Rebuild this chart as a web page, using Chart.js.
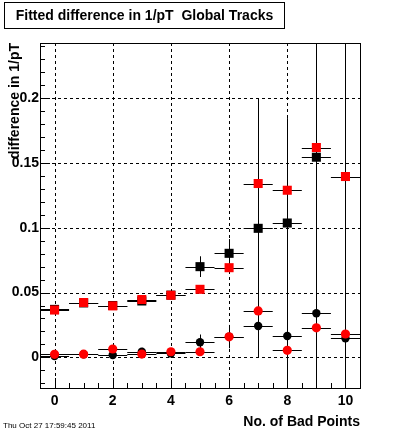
<!DOCTYPE html>
<html>
<head>
<meta charset="utf-8">
<script src="https://cdn.jsdelivr.net/npm/chart.js@4/dist/chart.umd.min.js"></script>
<style>
  body { margin: 0; background: #fff; }
  #wrap { position: relative; width: 400px; height: 433px; background: #fff; }
  #title {
    position: absolute; left: 4px; top: 2px; width: 279px; height: 25px;
    border: 1px solid #000; font: bold 14px "Liberation Sans", Arial, sans-serif;
    line-height: 25px; text-align: center; white-space: pre; color: #000;
  }
  #stamp {
    position: absolute; left: 3px; top: 421px;
    font: 8px "Liberation Sans", Arial, sans-serif; color: #000; white-space: pre;
  }
</style>
</head>
<body>
<div id="wrap">
  <canvas id="chart" width="400" height="433"></canvas>
  <div id="title">Fitted difference in 1/pT  Global Tracks</div>
  <div id="stamp">Thu Oct 27 17:59:45 2011</div>
</div>
<script>
// No. of bad points (x categories)
const nBad = [0, 1, 2, 3, 4, 5, 6, 7, 8, 9, 10];

// series
const redSquare   = [0.0365, 0.0423, 0.0397, 0.0446, 0.0479, 0.0525, 0.0692, 0.1342, 0.1290, 0.1620, 0.1396];
const blackSquare = [0.0370, 0.0420, 0.0400, 0.0435, 0.0480, 0.0700, 0.0803, 0.0996, 0.1037, 0.1545, null];
const redCircle   = [0.0023, 0.0024, 0.0064, 0.0025, 0.0043, 0.0043, 0.0158, 0.0358, 0.0054, 0.0228, 0.0180];
const blackCircle = [0.0010, 0.0024, 0.0018, 0.0043, 0.0030, 0.0116, 0.0160, 0.0242, 0.0164, 0.0340, 0.0147];

// vertical errors (black series only), horizontal half-width is half a bin
const blackSquareErr = [0.002, 0.002, 0.002, 0.002, 0.002, 0.008, 0.011, 0.100, 0.081, 0.300, 0];
const blackCircleErr = [0.003, 0.001, 0.002, 0.003, 0.002, 0.006, 0.009, 0.020, 0.050, 0.050, 0.300];
const binHalf = 0.5;

// axis ticks
const xTickValues = [0, 2, 4, 6, 8, 10];
const yTickValues = [0, 0.05, 0.1, 0.15, 0.2];
const yTickLabels = ['0', '0.05', '0.1', '0.15', '0.2'];

const FONT = '"Liberation Sans", Arial, sans-serif';

function points(vals) {
  return nBad.map((x, i) => ({ x: x, y: vals[i] }));
}

// error bars + dashed grid, under the markers
const errorBars = {
  id: 'errorBars',
  beforeDatasetsDraw(chart) {
    const { ctx, chartArea: a, scales: { x, y } } = chart;
    ctx.save();
    ctx.beginPath();
    ctx.rect(a.left, a.top, a.right - a.left, a.bottom - a.top);
    ctx.clip();

    // grid
    ctx.strokeStyle = '#000';
    ctx.lineWidth = 1;
    ctx.setLineDash([3, 3]);
    xTickValues.forEach(v => {
      const px = Math.round(x.getPixelForValue(v)) + 0.5;
      ctx.beginPath(); ctx.moveTo(px, a.top); ctx.lineTo(px, a.bottom); ctx.stroke();
    });
    yTickValues.forEach(v => {
      const py = Math.round(y.getPixelForValue(v)) + 0.5;
      ctx.beginPath(); ctx.moveTo(a.left, py); ctx.lineTo(a.right, py); ctx.stroke();
    });
    ctx.setLineDash([]);

    const series = [
      [blackSquare, blackSquareErr],
      [blackCircle, blackCircleErr],
      [redSquare, null],
      [redCircle, null]
    ];
    series.forEach(([vals, errs]) => {
      vals.forEach((v, i) => {
        if (v == null) return;
        const px = Math.round(x.getPixelForValue(nBad[i])) + 0.5;
        const py = Math.round(y.getPixelForValue(v)) + 0.5;
        ctx.beginPath();
        ctx.moveTo(x.getPixelForValue(nBad[i] - binHalf), py);
        ctx.lineTo(x.getPixelForValue(nBad[i] + binHalf), py);
        if (errs && errs[i]) {
          ctx.moveTo(px, y.getPixelForValue(v + errs[i]));
          ctx.lineTo(px, y.getPixelForValue(v - errs[i]));
        }
        ctx.stroke();
      });
    });
    ctx.restore();
  }
};

// ROOT style frame with inward ticks
const frame = {
  id: 'frame',
  afterDraw(chart) {
    const { ctx, chartArea: a, scales: { x, y } } = chart;
    ctx.save();
    ctx.strokeStyle = '#000';
    ctx.lineWidth = 1;
    ctx.beginPath();
    // y ticks every 0.01, long at 0.05
    for (let k = -2; k <= 24; k++) {
      const v = k / 100;
      const py = Math.round(y.getPixelForValue(v)) + 0.5;
      if (py < a.top || py > a.bottom) continue;
      const len = (k % 5 === 0) ? 10 : 5;
      ctx.moveTo(a.left, py); ctx.lineTo(a.left + len, py);
    }
    // x ticks every 0.5, long at even numbers
    for (let k = 0; k <= 20; k++) {
      const v = k / 2;
      const px = Math.round(x.getPixelForValue(v)) + 0.5;
      const len = (k % 4 === 0) ? 10 : 5;
      ctx.moveTo(px, a.bottom); ctx.lineTo(px, a.bottom - len);
    }
    ctx.stroke();
    ctx.strokeRect(Math.round(a.left) + 0.5, Math.round(a.top) + 0.5,
      Math.round(a.right - a.left), Math.round(a.bottom - a.top));
    ctx.restore();
  }
};

const ctx = document.getElementById('chart').getContext('2d');
const chart = new Chart(ctx, {
  type: 'scatter',
  data: {
    datasets: [
      { data: points(redSquare), pointStyle: 'rect', pointRadius: 6.4, backgroundColor: '#ff0000', borderWidth: 0 },
      { data: points(redCircle), pointStyle: 'circle', pointRadius: 4.6, backgroundColor: '#ff0000', borderWidth: 0 },
      { data: points(blackSquare), pointStyle: 'rect', pointRadius: 6.4, backgroundColor: '#000000', borderWidth: 0 },
      { data: points(blackCircle), pointStyle: 'circle', pointRadius: 4.2, backgroundColor: '#000000', borderWidth: 0 }
    ]
  },
  options: {
    responsive: false,
    animation: false,
    events: [],
    layout: { padding: { top: 43, right: 40, left: 0, bottom: 0 } },
    plugins: {
      legend: { display: false },
      tooltip: { enabled: false }
    },
    scales: {
      x: {
        type: 'linear',
        min: -0.5,
        max: 10.5,
        afterBuildTicks: s => { s.ticks = xTickValues.map(v => ({ value: v })); },
        afterFit: s => { s.height = 45; },
        grid: { display: false, drawTicks: false, tickLength: 0 },
        border: { display: false },
        ticks: {
          color: '#000', padding: 5, autoSkip: false, maxRotation: 0,
          font: { family: FONT, size: 14, weight: 'bold' },
          callback: v => String(v)
        },
        title: {
          display: true, text: 'No. of Bad Points', align: 'end', color: '#000',
          font: { family: FONT, size: 14, weight: 'bold' },
          padding: { top: 0, bottom: 2 }
        }
      },
      y: {
        min: -0.0237,
        max: 0.2427,
        afterBuildTicks: s => { s.ticks = yTickValues.map(v => ({ value: v })); },
        afterFit: s => { s.width = 40; },
        grid: { display: false, drawTicks: false, tickLength: 0 },
        border: { display: false },
        ticks: {
          color: '#000', padding: 1, autoSkip: false,
          font: { family: FONT, size: 14, weight: 'bold' },
          callback: (v, i) => yTickLabels[i]
        },
        title: {
          display: true, text: 'difference in 1/pT', align: 'end', color: '#000',
          font: { family: FONT, size: 14, weight: 'bold' },
          padding: { top: 7, bottom: 0 }
        }
      }
    }
  },
  plugins: [errorBars, frame]
});
</script>
</body>
</html>
